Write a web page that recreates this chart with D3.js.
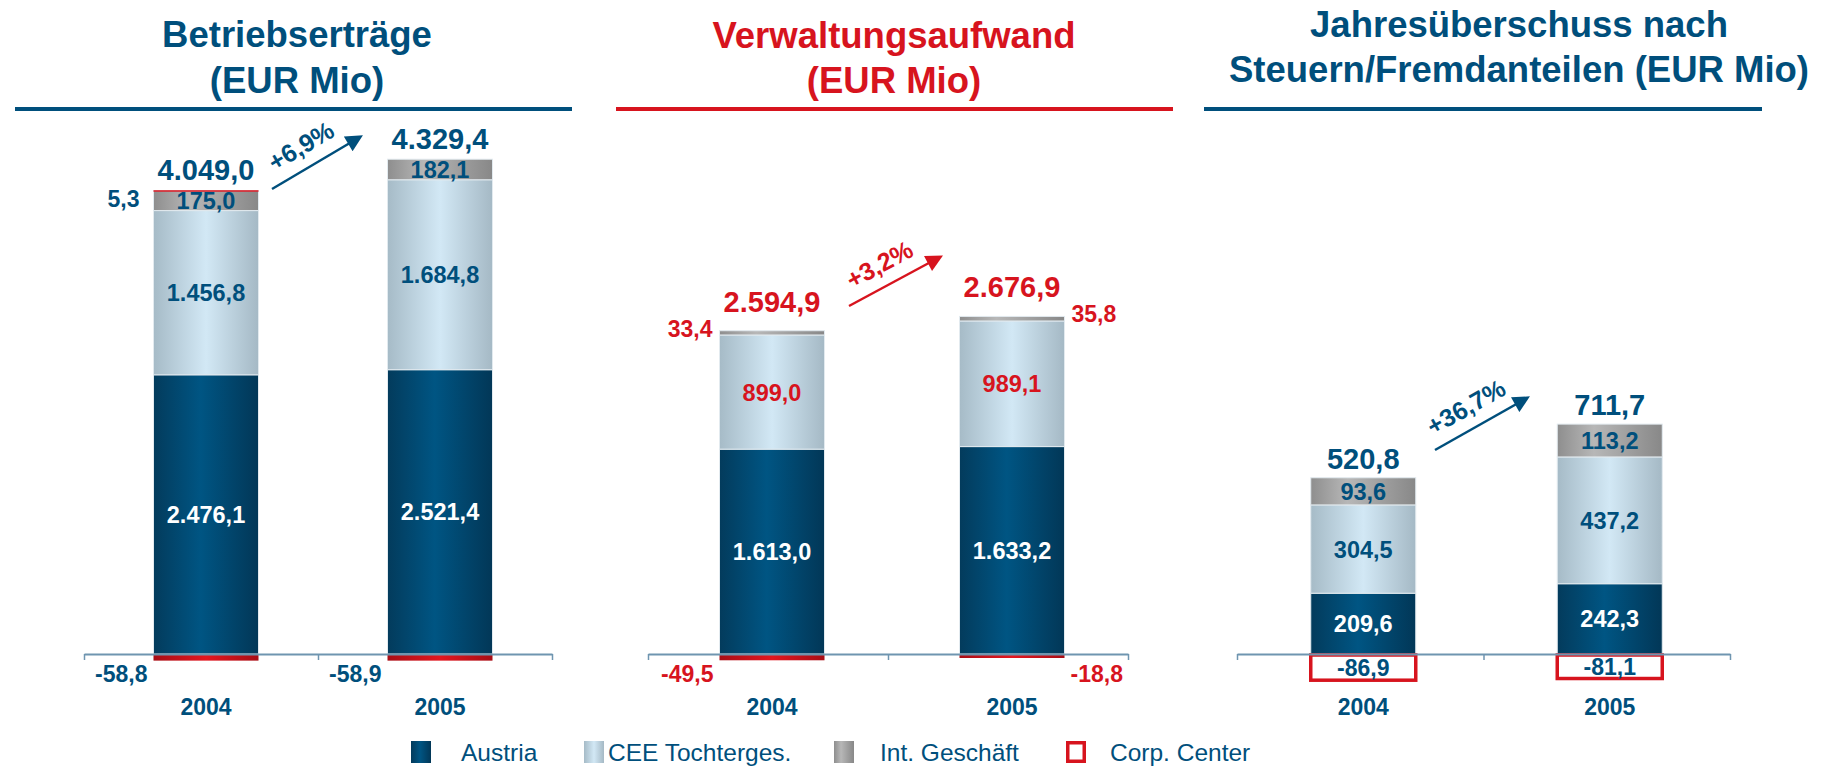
<!DOCTYPE html>
<html>
<head>
<meta charset="utf-8">
<script src="https://cdn.jsdelivr.net/npm/d3@7"></script>
<style>
  body { margin: 0; background: #fff; }
  svg { display: block; font-family: "Liberation Sans", Arial, sans-serif; }
</style>
</head>
<body>
<svg id="chart" width="1832" height="768"></svg>
<script>
// data
const years = ["2004", "2005"];

const titleBetrieb = ["Betriebserträge", "(EUR Mio)"];
const beAustria = [2476.1, 2521.4];
const beCEE = [1456.8, 1684.8];
const beInt = [175.0, 182.1];
const beCorpTop = [5.3, 0];
const beCorp = [-58.8, -58.9];
const beTotal = [4049.0, 4329.4];
const beGrowth = "+6,9%";

const titleVerw = ["Verwaltungsaufwand", "(EUR Mio)"];
const vaAustria = [1613.0, 1633.2];
const vaCEE = [899.0, 989.1];
const vaInt = [33.4, 35.8];
const vaCorpTop = [0, 0];
const vaCorp = [-49.5, -18.8];
const vaTotal = [2594.9, 2676.9];
const vaGrowth = "+3,2%";

const titleJue = ["Jahresüberschuss nach", "Steuern/Fremdanteilen (EUR Mio)"];
const jueAustria = [209.6, 242.3];
const jueCEE = [304.5, 437.2];
const jueInt = [93.6, 113.2];
const jueCorpTop = [0, 0];
const jueCorp = [-86.9, -81.1];
const jueTotal = [520.8, 711.7];
const jueGrowth = "+36,7%";

const legendLabels = ["Austria", "CEE Tochterges.", "Int. Geschäft", "Corp. Center"];

const BLUE = "#004f7c";
const RED = "#d7141e";

const panelData = [
  { title: titleBetrieb, austria: beAustria, cee: beCEE, int: beInt, corpTop: beCorpTop, corp: beCorp, total: beTotal, growth: beGrowth },
  { title: titleVerw, austria: vaAustria, cee: vaCEE, int: vaInt, corpTop: vaCorpTop, corp: vaCorp, total: vaTotal, growth: vaGrowth },
  { title: titleJue, austria: jueAustria, cee: jueCEE, int: jueInt, corpTop: jueCorpTop, corp: jueCorp, total: jueTotal, growth: jueGrowth }
];

// layout per panel
const layout = [
  { axis: [84, 552], axisY: 654, yDom: 4000, yTop: 203, barW: 105, shift: 5,
    titleX: 297, titleY: [47, 93], rule: [15, 572], color: BLUE, segColor: BLUE,
    totalGap: 10, arrow: [272, 189, 360, 137], corpBox: false, corpSide: ["left", "left"],
    thinSide: ["left", "right"], thinDy: 17, thinGap: 14 },
  { axis: [648, 1128], axisY: 654, yDom: 3000, yTop: 273, barW: 105, shift: 4,
    titleX: 894, titleY: [48, 93], rule: [616, 1173], color: RED, segColor: RED,
    totalGap: 19, arrow: [849, 306, 940, 257], corpBox: false, corpSide: ["left", "right"],
    thinSide: ["left", "right"], thinDy: 6, thinGap: 7 },
  { axis: [1237, 1730], axisY: 654, yDom: 800, yTop: 422, barW: 105, shift: 3,
    titleX: 1519, titleY: [37, 82], rule: [1204, 1762], color: BLUE, segColor: BLUE,
    totalGap: 9, arrow: [1435, 450, 1527, 398], corpBox: true, corpSide: ["left", "left"],
    thinSide: ["left", "right"], thinDy: 6, thinGap: 7 }
];

const fmt = d3.formatLocale({ decimal: ",", thousands: ".", grouping: [3], currency: ["", ""], minus: "-" }).format(",.1f");

const svg = d3.select("#chart");
const defs = svg.append("defs");

function grad(id, stops) {
  const g = defs.append("linearGradient").attr("id", id)
    .attr("x1", "0").attr("x2", "1").attr("y1", "0").attr("y2", "0");
  stops.forEach(([o, c]) => g.append("stop").attr("offset", o).attr("stop-color", c));
}
grad("gAustria", [[0, "#033b5c"], [0.45, "#005583"], [1, "#023757"]]);
grad("gCEE", [[0, "#a6bbc7"], [0.5, "#d2e8f5"], [1, "#a5b9c5"]]);
grad("gInt", [[0, "#8e8e8e"], [0.35, "#b7b7b7"], [1, "#888888"]]);
grad("gRed", [[0, "#a80d15"], [0.5, "#e3161f"], [1, "#a80d15"]]);

[["arrowBlue", BLUE], ["arrowRed", RED]].forEach(([id, c]) => {
  defs.append("marker").attr("id", id)
    .attr("viewBox", "0 0 10 10").attr("refX", 8).attr("refY", 5)
    .attr("markerWidth", 18).attr("markerHeight", 17)
    .attr("markerUnits", "userSpaceOnUse").attr("orient", "auto")
    .append("path").attr("d", "M0,0L10,5L0,10z").attr("fill", c);
});

const keys = ["austria", "cee", "int", "corpTop"];
const fills = { austria: "url(#gAustria)", cee: "url(#gCEE)", int: "url(#gInt)", corpTop: RED };

panelData.forEach((p, k) => {
  const L = layout[k];
  const g = svg.append("g");

  // title + rule
  g.selectAll("text.title").data(p.title).join("text")
    .attr("class", "title")
    .attr("x", L.titleX).attr("y", (d, i) => L.titleY[i])
    .attr("text-anchor", "middle").attr("font-size", 36.5).attr("font-weight", "bold")
    .attr("fill", L.color).text(d => d);
  g.append("rect").attr("x", L.rule[0]).attr("y", 107)
    .attr("width", L.rule[1] - L.rule[0]).attr("height", 4).attr("fill", L.color);

  const x = d3.scaleBand().domain(years).range(L.axis);
  const cx = yr => x(yr) + x.bandwidth() / 2 + L.shift;
  const y = d3.scaleLinear().domain([0, L.yDom]).range([L.axisY, L.yTop]);

  const rows = years.map((yr, i) => ({
    year: yr, austria: p.austria[i], cee: p.cee[i], int: p.int[i], corpTop: p.corpTop[i]
  }));
  const series = d3.stack().keys(keys)(rows);

  // stacked positive segments
  series.forEach(s => {
    g.selectAll(null).data(s.filter(d => d[1] > d[0])).join("rect")
      .attr("x", d => cx(d.data.year) - L.barW / 2)
      .attr("y", d => y(d[1]))
      .attr("width", L.barW)
      .attr("height", d => Math.max(1.5, y(d[0]) - y(d[1])))
      .attr("fill", fills[s.key])
      .attr("stroke", s.key === "corpTop" ? "none" : "#e2eaef")
      .attr("stroke-width", 1);
  });

  // negative Corp. Center
  years.forEach((yr, i) => {
    const v = p.corp[i];
    const c = cx(yr);
    if (L.corpBox) {
      g.append("rect")
        .attr("x", c - L.barW / 2).attr("y", y(0) + 1)
        .attr("width", L.barW).attr("height", y(v) - y(0))
        .attr("fill", "#fff").attr("stroke", RED).attr("stroke-width", 3.5);
      g.append("text")
        .attr("x", c).attr("y", (y(0) + y(v)) / 2 + 1).attr("dy", "0.36em")
        .attr("text-anchor", "middle").attr("font-size", 23).attr("font-weight", "bold")
        .attr("fill", BLUE).text(fmt(v));
    } else {
      g.append("rect")
        .attr("x", c - L.barW / 2).attr("y", y(0))
        .attr("width", L.barW).attr("height", Math.max(4, y(v) - y(0)))
        .attr("fill", "url(#gRed)");
      const left = L.corpSide[i] === "left";
      g.append("text")
        .attr("x", left ? c - L.barW / 2 - 6 : c + L.barW / 2 + 6)
        .attr("y", L.axisY + 28)
        .attr("text-anchor", left ? "end" : "start")
        .attr("font-size", 23).attr("font-weight", "bold")
        .attr("fill", L.color).text(fmt(v));
    }
  });

  // axis with ticks at band edges
  const ax = d3.scaleLinear().domain([0, years.length]).range(L.axis);
  const axG = g.append("g").attr("transform", `translate(0,${L.axisY})`)
    .call(d3.axisBottom(ax).tickValues(d3.range(years.length + 1)).tickFormat("").tickSize(6).tickSizeOuter(0));
  axG.select(".domain").attr("stroke", "#6f95b0").attr("stroke-width", 2);
  axG.selectAll(".tick line").attr("stroke", "#6f95b0").attr("stroke-width", 1.5);

  // segment labels
  series.forEach(s => {
    s.forEach((d, i) => {
      const v = d[1] - d[0];
      if (!(v > 0)) return;
      const h = y(d[0]) - y(d[1]);
      const c = cx(d.data.year);
      if (h >= 14) {
        g.append("text")
          .attr("x", c).attr("y", (y(d[0]) + y(d[1])) / 2).attr("dy", "0.36em")
          .attr("text-anchor", "middle").attr("font-size", 23.5).attr("font-weight", "bold")
          .attr("fill", s.key === "austria" ? "#fff" : L.segColor)
          .text(fmt(v));
      } else {
        const left = L.thinSide[i] === "left";
        g.append("text")
          .attr("x", left ? c - L.barW / 2 - L.thinGap : c + L.barW / 2 + L.thinGap)
          .attr("y", y(d[1]) + L.thinDy)
          .attr("text-anchor", left ? "end" : "start")
          .attr("font-size", 23).attr("font-weight", "bold")
          .attr("fill", L.segColor).text(fmt(v));
      }
    });
  });

  // totals
  const top = series[series.length - 1];
  g.selectAll("text.total").data(years).join("text")
    .attr("class", "total")
    .attr("x", yr => cx(yr))
    .attr("y", (yr, i) => y(top[i][1]) - L.totalGap)
    .attr("text-anchor", "middle").attr("font-size", 29).attr("font-weight", "bold")
    .attr("fill", L.color).text((yr, i) => fmt(p.total[i]));

  // year labels
  g.selectAll("text.year").data(years).join("text")
    .attr("class", "year")
    .attr("x", yr => cx(yr)).attr("y", 715)
    .attr("text-anchor", "middle").attr("font-size", 23).attr("font-weight", "bold")
    .attr("fill", BLUE).text(d => d);

  // growth arrow
  const [x1, y1, x2, y2] = L.arrow;
  g.append("line").attr("x1", x1).attr("y1", y1).attr("x2", x2).attr("y2", y2)
    .attr("stroke", L.color).attr("stroke-width", 2.5)
    .attr("marker-end", L.color === RED ? "url(#arrowRed)" : "url(#arrowBlue)");
  const ang = Math.atan2(y2 - y1, x2 - x1) * 180 / Math.PI;
  const tx = (x1 + x2) / 2 - 15, ty = (y1 + y2) / 2 - 17;
  g.append("text")
    .attr("x", tx).attr("y", ty).attr("dy", "0.35em")
    .attr("transform", `rotate(${ang},${tx},${ty})`)
    .attr("text-anchor", "middle").attr("font-size", 25).attr("font-weight", "bold")
    .attr("fill", L.color).text(p.growth);
});

// legend
const legendFills = ["url(#gAustria)", "url(#gCEE)", "url(#gInt)", "#fff"];
const legendSwatchX = [411, 584, 834, 1066];
const legendTextX = [461, 608, 880, 1110];
const lg = svg.append("g");
legendLabels.forEach((lab, i) => {
  if (i === 3) {
    lg.append("rect").attr("x", legendSwatchX[i] + 1.75).attr("y", 742.75)
      .attr("width", 16.5).attr("height", 18.5)
      .attr("fill", "#fff").attr("stroke", RED).attr("stroke-width", 3.5);
  } else {
    lg.append("rect").attr("x", legendSwatchX[i]).attr("y", 741)
      .attr("width", 20).attr("height", 22).attr("fill", legendFills[i]);
  }
  lg.append("text").attr("x", legendTextX[i]).attr("y", 761)
    .attr("font-size", 24.5).attr("fill", BLUE).text(lab);
});
</script>
</body>
</html>
